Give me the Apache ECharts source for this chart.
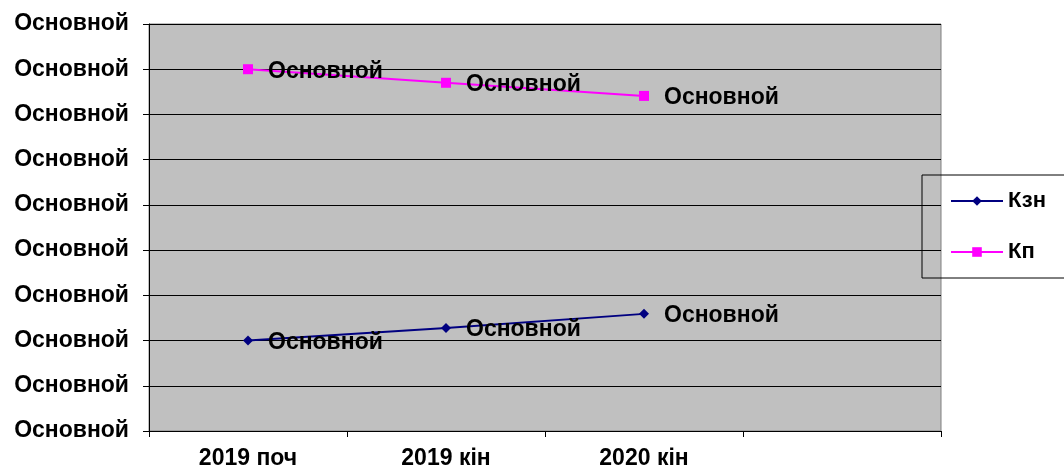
<!DOCTYPE html>
<html>
<head>
<meta charset="utf-8">
<script src="https://cdn.jsdelivr.net/npm/echarts@6/dist/echarts.min.js"></script>
<style>
  html, body { margin: 0; padding: 0; background: #fff; }
  #chart { width: 1064px; height: 470px; }
</style>
</head>
<body>
<div id="chart"></div>
<script>
// категорії (четверта порожня, як в Excel)
var categories = ['2019 поч', '2019 кін', '2020 кін', '']
var kznValues = [0.2, 0.228, 0.259]
var kpValues = [0.8, 0.77, 0.741]
var yLabel = 'Основной' // формат "Основной" виводиться як текст

var font = 'Liberation Sans, Arial, sans-serif'
var myChart = echarts.init(document.getElementById('chart'))

function labelCfg() {
  return {
    show: true,
    position: 'right',
    distance: 15,
    offset: [0, 2],
    formatter: function() { return yLabel },
    color: '#000',
    fontWeight: 'bold',
    fontSize: 23,
    fontFamily: font
  }
}

var options = {
  backgroundColor: '#fff',
  animation: false,
  grid: {
    left: 149,
    right: 123,
    top: 24,
    bottom: 39,
    show: true,
    backgroundColor: '#c0c0c0',
    borderColor: '#808080',
    borderWidth: 1
  },
  legend: {
    orient: 'vertical',
    left: 922,
    top: 175,
    padding: [15, 60, 15, 28],
    itemGap: 29,
    itemWidth: 52,
    itemHeight: 12,
    borderColor: '#000',
    borderWidth: 1,
    textStyle: { color: '#000', fontWeight: 'bold', fontSize: 22, fontFamily: font },
    data: ['Кзн', 'Кп']
  },
  xAxis: {
    type: 'category',
    data: categories,
    boundaryGap: true,
    axisLine: { show: true, lineStyle: { color: '#000', width: 1 } },
    axisTick: { show: true, length: 6, lineStyle: { color: '#000' } },
    axisLabel: {
      margin: 16,
      color: '#000',
      fontWeight: 'bold',
      fontSize: 23,
      fontFamily: font
    },
    splitLine: { show: false }
  },
  yAxis: {
    type: 'value',
    min: 0,
    max: 0.9,
    interval: 0.1,
    axisLine: { show: true, lineStyle: { color: '#000', width: 1 } },
    axisTick: { show: true, length: 6, lineStyle: { color: '#000' } },
    axisLabel: {
      margin: 20,
      color: '#000',
      fontWeight: 'bold',
      fontSize: 23,
      fontFamily: font,
      formatter: function() { return yLabel }
    },
    splitLine: { show: true, lineStyle: { color: '#000', width: 1 } }
  },
  series: [
    {
      name: 'Кзн',
      type: 'line',
      data: kznValues,
      symbol: 'diamond',
      symbolSize: 10,
      color: '#000080',
      lineStyle: { color: '#000080', width: 2 },
      itemStyle: { color: '#000080' },
      label: labelCfg()
    },
    {
      name: 'Кп',
      type: 'line',
      data: kpValues,
      symbol: 'rect',
      symbolSize: 10,
      color: '#ff00ff',
      lineStyle: { color: '#ff00ff', width: 2 },
      itemStyle: { color: '#ff00ff' },
      label: labelCfg()
    }
  ]
}

myChart.setOption(options)
</script>
</body>
</html>
